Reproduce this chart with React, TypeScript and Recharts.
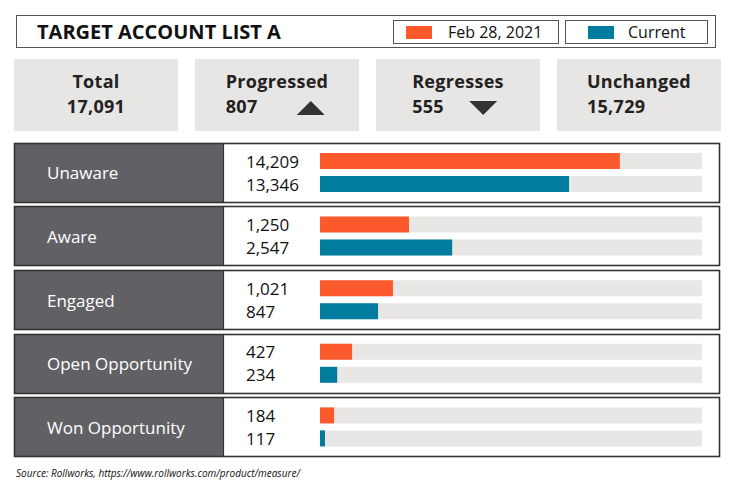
import { BarChart, Bar, XAxis, YAxis, LabelList } from "recharts";

const stages = ["Unaware", "Aware", "Engaged", "Open Opportunity", "Won Opportunity"];
const feb28Counts = [14209, 1250, 1021, 427, 184];
const currentCounts = [13346, 2547, 847, 234, 117];
// bar fill (% of track) as drawn in the picture
const feb28BarPct = [78.5, 23.3, 19.1, 8.4, 3.7];
const currentBarPct = [65.2, 34.6, 15.2, 4.5, 1.3];

const statLabels = ["Total", "Progressed", "Regresses", "Unchanged"];
const statValues = [17091, 807, 555, 15729];
const statTrends = ["", "up", "down", ""];

const legendLabels = ["Feb 28, 2021", "Current"];

const ORANGE = "#fc5a2c";
const TEAL = "#017b9e";
const TRACK = "#e8e7e5";
const PANEL = "#616165";
const BOX = "#e8e6e4";
const FONT = "'Open Sans', 'Noto Sans', sans-serif";

const rows = stages.map((stage, i) => ({
  stage,
  prev: feb28BarPct[i],
  curr: currentBarPct[i],
  prevCount: feb28Counts[i],
  currCount: currentCounts[i],
}));

const RowTick = (props: any) => {
  const { y, payload } = props;
  const top = Math.round(y) - 30;
  return (
    <g>
      <rect x={14} y={top} width={209} height={60} fill={PANEL} />
      <rect x={14.5} y={top + 0.5} width={705} height={59} fill="none" stroke="#333" strokeWidth={1.6} />
      <line x1={223.5} x2={223.5} y1={top} y2={top + 60} stroke="#333" strokeWidth={1.2} />
      <text x={47} y={y} dominantBaseline="central" fill="#fff" fontSize={17} fontFamily={FONT}>
        {payload.value}
      </text>
    </g>
  );
};

const CountLabel = (props: any) => {
  const { y, height, value } = props;
  return (
    <text x={246} y={Number(y) + Number(height) / 2} dominantBaseline="central" fill="#111" fontSize={17} fontFamily={FONT}>
      {Number(value).toLocaleString("en-US")}
    </text>
  );
};

const Triangle = ({ dir }: { dir: string }) => (
  <svg width={28} height={14} style={{ display: "inline-block", verticalAlign: "middle" }}>
    <polygon points={dir === "up" ? "0,14 14,0 28,14" : "0,0 28,0 14,14"} fill="#333" />
  </svg>
);

const statBoxLeft = [14, 195, 376, 557];
const statGap = [0, 39, 25, 0];

export default function App() {
  return (
    <div style={{ position: "absolute", left: 0, top: 0, width: 735, height: 495, background: "#fff", fontFamily: FONT, color: "#111" }}>
      <div style={{ position: "absolute", left: 0, top: 0 }}>
        <BarChart
          width={735}
          height={495}
          data={rows}
          layout="vertical"
          margin={{ top: 141, bottom: 36, left: 0, right: 33 }}
          barSize={16}
          barGap={7}
        >
          <XAxis type="number" domain={[0, 100]} hide />
          <YAxis
            type="category"
            dataKey="stage"
            width={320}
            axisLine={false}
            tickLine={false}
            interval={0}
            tick={<RowTick />}
          />
          <Bar dataKey="prev" fill={ORANGE} background={{ fill: TRACK }} isAnimationActive={false}>
            <LabelList dataKey="prevCount" content={<CountLabel />} />
          </Bar>
          <Bar dataKey="curr" fill={TEAL} background={{ fill: TRACK }} isAnimationActive={false}>
            <LabelList dataKey="currCount" content={<CountLabel />} />
          </Bar>
        </BarChart>
      </div>

      {/* header */}
      <div style={{ position: "absolute", left: 16, top: 15, width: 698, height: 31, border: "1.5px solid #555" }} />
      <div style={{ position: "absolute", left: 37, top: 19, fontSize: 20, fontWeight: 700, lineHeight: "26px", letterSpacing: 0 }}>
        TARGET ACCOUNT LIST A
      </div>
      {legendLabels.map((label, i) => (
        <div
          key={label}
          style={{
            position: "absolute",
            left: i === 0 ? 393 : 565,
            top: 20,
            width: i === 0 ? 164 : 141,
            height: 22,
            border: "1.5px solid #555",
          }}
        >
          <div style={{ position: "absolute", left: i === 0 ? 12 : 22, top: 5, width: 26, height: 13, background: i === 0 ? ORANGE : TEAL }} />
          <div style={{ position: "absolute", left: i === 0 ? 54 : 62, top: -1, fontSize: 16, lineHeight: "24px", whiteSpace: "nowrap" }}>
            {label}
          </div>
        </div>
      ))}

      {/* stat boxes */}
      {statLabels.map((label, i) => (
        <div key={label} style={{ position: "absolute", left: statBoxLeft[i], top: 59, width: 164, height: 72, background: BOX }}>
          <div
            style={{
              position: "absolute",
              left: "50%",
              top: 10,
              transform: "translateX(-50%)",
              textAlign: i === 0 ? "center" : "left",
              fontWeight: 700,
              fontSize: 18,
              letterSpacing: 0.3,
              lineHeight: "25px",
              whiteSpace: "nowrap",
              color: "#222",
            }}
          >
            <div>{label}</div>
            <div style={{ height: 25 }}>
              {statValues[i].toLocaleString("en-US")}
              {statTrends[i] && (
                <span style={{ marginLeft: statGap[i] }}>
                  <Triangle dir={statTrends[i]} />
                </span>
              )}
            </div>
          </div>
        </div>
      ))}

      <div style={{ position: "absolute", left: 16, top: 466, fontSize: 10, fontStyle: "italic", letterSpacing: 0, whiteSpace: "nowrap" }}>
        Source: Rollworks, https://www.rollworks.com/product/measure/
      </div>
    </div>
  );
}
